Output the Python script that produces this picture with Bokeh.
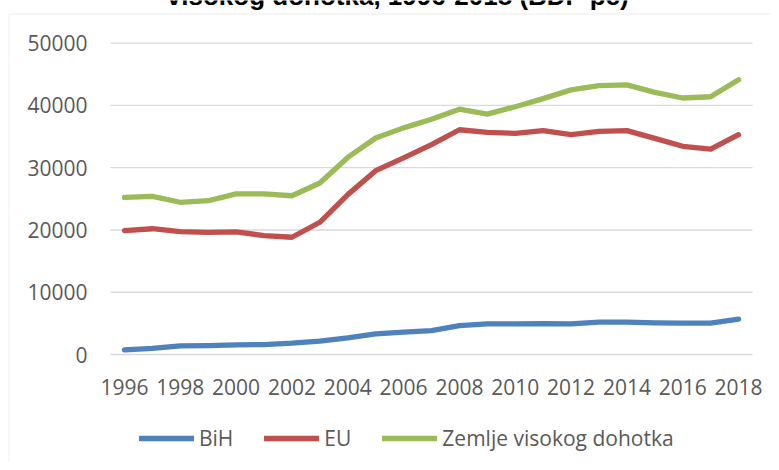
from bokeh.plotting import figure
from bokeh.models import Range1d, FixedTicker, Legend, LegendItem, Label, BoxAnnotation
from bokeh.embed import file_html
from bokeh.resources import INLINE

# ---- data ----
years = list(range(1996, 2019))
bih = [750, 1000, 1390, 1440, 1550, 1600, 1820, 2140, 2670, 3320, 3580, 3850,
       4650, 4920, 4920, 4970, 4920, 5190, 5190, 5080, 5030, 5030, 5670]
eu = [19900, 20200, 19740, 19630, 19690, 19100, 18830, 21240, 25680, 29530, 31570, 33700,
      36100, 35680, 35520, 35960, 35310, 35840, 35950, 34720, 33440, 33000, 35310]
high_income = [25250, 25400, 24450, 24700, 25800, 25800, 25500, 27550, 31650, 34780, 36400, 37800,
               39400, 38600, 39800, 41100, 42500, 43200, 43300, 42100, 41200, 41400, 44140]
series_names = ["BiH", "EU", "Zemlje visokog dohotka"]
series_colors = ["#4F81BD", "#C0504D", "#9BBB59"]
x_tick_years = list(range(1996, 2019, 2))
y_tick_values = [0, 10000, 20000, 30000, 40000, 50000]
title_text = "visokog dohotka, 1996-2018 (BDP pc)"

TXT = "#595959"
FONT = "Open Sans"

# ---- layout (canvas pixels) ----
W, H = 771, 462
PL, PR, PT, PB = 110, 752, 42.7, 354   # plot area edges

x_lo, x_hi = years[0] - 0.5, years[-1] + 0.5
y_lo, y_hi = y_tick_values[0], y_tick_values[-1]
xpx = (PR - PL) / (x_hi - x_lo)
ypx = (PB - PT) / (y_hi - y_lo)
xr0, xr1 = x_lo - PL / xpx, x_hi + (W - PR) / xpx
yr0, yr1 = y_lo - (H - PB) / ypx, y_hi + PT / ypx

p = figure(width=W, height=H, output_backend="svg", toolbar_location=None,
           x_range=Range1d(xr0, xr1), y_range=Range1d(yr0, yr1), min_border=0,
           min_border_left=0, min_border_right=0, min_border_top=0, min_border_bottom=0)
p.outline_line_color = None
p.background_fill_color = "white"
p.border_fill_color = "white"
p.xgrid.visible = False
p.ygrid.visible = False

# outer chart border (starts at 8.5px left, 13.5px top; runs off the right/bottom edge)
p.add_layout(BoxAnnotation(left=xr0 + 8.5 / xpx, top=yr1 - 13.5 / ypx,
                           right=xr1 + 5, bottom=yr0 - 5000,
                           fill_alpha=0, fill_color=None,
                           line_color="#D9D9D9", line_width=1.3))

# horizontal gridlines
n = len(y_tick_values)
p.segment(x0=[x_lo] * n, y0=y_tick_values, x1=[x_hi] * n, y1=y_tick_values,
          line_color="#D9D9D9", line_width=1.3)

renderers = []
for vals, name, col in zip([bih, eu, high_income], series_names, series_colors):
    r = p.line(years, vals, line_color=col, line_width=5.3, line_cap="round", line_join="round")
    renderers.append(r)

# axes at fixed positions
p.xaxis.fixed_location = 0
p.yaxis.fixed_location = x_lo
p.xaxis.ticker = FixedTicker(ticks=x_tick_years)
p.yaxis.ticker = FixedTicker(ticks=y_tick_values)
for ax in (p.xaxis, p.yaxis):
    ax.axis_line_color = None
    ax.major_tick_line_color = None
    ax.minor_tick_line_color = None
    ax.major_tick_out = 0
    ax.major_tick_in = 0
    ax.major_label_text_font = FONT
    ax.major_label_text_font_size = "21px"
    ax.major_label_text_color = TXT
p.yaxis.major_label_standoff = 23
p.xaxis.major_label_standoff = 24

# title (its upper part is cut off in the reference)
p.add_layout(Label(x=397.5, y=-4.5, x_units="canvas", y_units="canvas", text=title_text,
                   text_font="Liberation Sans", text_font_style="bold", text_font_size="26px",
                   text_color="black", text_align="center", text_baseline="alphabetic"))

legend = Legend(items=[LegendItem(label=nm, renderers=[r]) for nm, r in zip(series_names, renderers)],
                location=(139, 10.5), orientation="horizontal", glyph_width=55, glyph_height=20,
                label_standoff=5, spacing=31, padding=0, margin=0,
                border_line_color=None, background_fill_alpha=0,
                label_text_font=FONT, label_text_font_size="21px", label_text_color=TXT)
p.add_layout(legend)

open("out.html", "w").write(file_html(p, INLINE))
